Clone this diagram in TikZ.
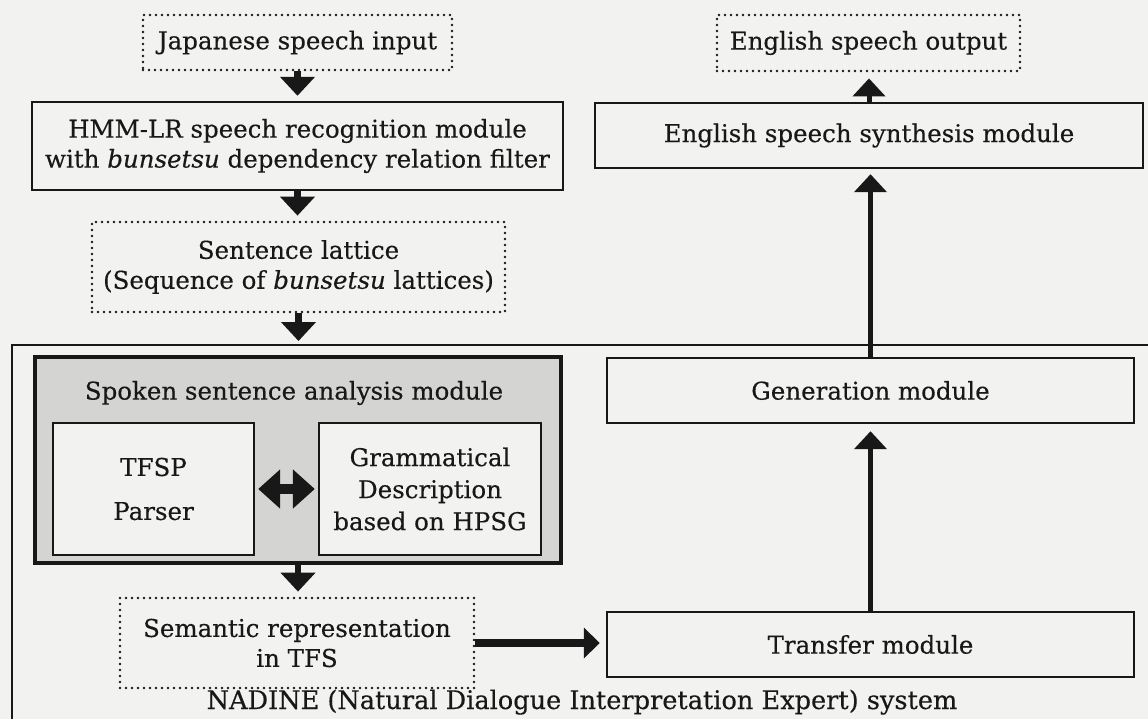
\documentclass[tikz,border=0pt]{standalone}
\usepackage{fontspec}
\setmainfont[FakeBold=0.35]{DejaVu Serif}
\usetikzlibrary{arrows.meta}
\definecolor{bgcol}{RGB}{242,242,240}
\definecolor{inkcol}{RGB}{24,24,24}
\definecolor{stipcol}{RGB}{212,212,210}
\begin{document}
\begin{tikzpicture}[x=0.5pt,y=-0.5pt,
  every node/.style={font=\fontsize{12.25}{15}\selectfont, align=center, inner sep=0pt, text=inkcol},
  solidbox/.style={draw=inkcol, line width=1.2pt},
  dotbox/.style={draw=inkcol, line width=1.4pt, line cap=round, dash pattern=on 0pt off 3pt},
  blk/.style={draw=inkcol, line width=3.2pt, shorten >=2.5pt, -{Triangle[width=17pt,length=9.5pt]}},
  thinblk/.style={draw=inkcol, line width=2.5pt, shorten >=2.5pt, -{Triangle[width=16pt,length=9pt]}},
  hblk/.style={draw=inkcol, line width=4pt, shorten >=3pt, -{Triangle[width=15pt,length=8pt]}},
  dblk/.style={draw=inkcol, line width=5pt, shorten >=1.5pt, shorten <=1.5pt, {Triangle[width=19pt,length=11pt]}-{Triangle[width=19pt,length=11pt]}}
]
\useasboundingbox[fill=bgcol] (0,0) rectangle (1148,719);

% outer NADINE frame (runs off the page at right and bottom)
\draw[draw=inkcol, line width=0.8pt] (12,719) -- (12,345) -- (1148,345);

% left column
\node[dotbox, minimum width=154.5pt, minimum height=27.5pt] (jin) at (297.5,42.5) {Japanese speech input};
\node[solidbox, minimum width=265.5pt, minimum height=44pt] (hmm) at (297.5,146)
  {HMM-LR speech recognition module\\with \textit{bunsetsu} dependency relation filter};
\node[dotbox, minimum width=206.5pt, minimum height=45pt] (lat) at (298.5,267)
  {Sentence lattice\\(Sequence of \textit{bunsetsu} lattices)};
\coordinate (ltip) at (298.5,347);

% spoken sentence analysis module
\node[draw=inkcol, line width=2pt, fill=stipcol, minimum width=263pt, minimum height=103pt] (spk) at (298,460) {};
\node (spkt) at (294,393) {Spoken sentence analysis module};
\node[solidbox, fill=bgcol, minimum width=100.5pt, minimum height=66pt] (tfsp) at (153.5,489) {TFSP\\[7pt]Parser};
\node[solidbox, fill=bgcol, minimum width=111pt, minimum height=66pt] (gram) at (430,489)
  {Grammatical\\[1pt]Description\\[1pt]based on HPSG};

\node[dotbox, minimum width=177pt, minimum height=45pt] (sem) at (297,643)
  {Semantic representation\\in TFS};
\node[anchor=base, font=\fontsize{12.8}{15}\selectfont] (nad) at (582,709) {NADINE (Natural Dialogue Interpretation Expert) system};

% right column
\node[dotbox, minimum width=151.5pt, minimum height=28pt] (eout) at (868.5,43) {English speech output};
\node[solidbox, minimum width=274pt, minimum height=32.5pt] (synth) at (869,135.5) {English speech synthesis module};
\node[solidbox, minimum width=263.5pt, minimum height=32.5pt] (gen) at (870.5,390.5) {Generation module};
\node[solidbox, minimum width=263.5pt, minimum height=32.5pt] (trans) at (870.5,644.5) {Transfer module};

% connectors
\draw[blk] (jin.south) -- (hmm.north);
\draw[blk] (hmm.south) -- (hmm.south |- lat.north);
\draw[blk, shorten >=3pt] (lat.south) -- (ltip);
\draw[blk] (spk.south) -- (spk.south |- sem.north);
\draw[dblk] (tfsp.east) -- (gram.west);
\draw[hblk] (sem.east) -- (sem.east -| trans.west);
\draw[thinblk, shorten >=3.5pt] (trans.north) -- (gen.south);
\draw[thinblk] (gen.north) -- (gen.north |- synth.south);
\draw[thinblk, shorten >=3pt] (synth.north) -- (synth.north |- eout.south);
\end{tikzpicture}
\end{document}
